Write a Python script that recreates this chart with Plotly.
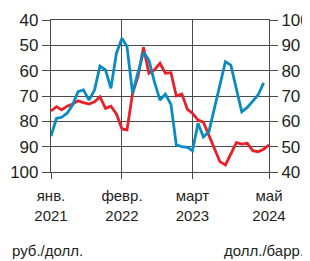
import pandas as pd
import plotly.graph_objects as go

rub_usd = [75.9, 74.2, 75.5, 74.0, 73.2, 71.9, 72.6, 73.2, 72.3, 70.3, 74.9, 74.0, 77.1,
           83.0, 83.4, 68.9, 62.4, 50.8, 61.0, 59.7, 57.1, 61.0, 60.8, 70.0, 69.2, 75.3,
           76.8, 79.5, 80.3, 85.8, 90.9, 95.9, 97.2, 92.8, 88.4, 89.0, 88.7, 91.6, 92.0,
           91.0, 89.3]
oil_usd = [54.2, 61.2, 61.6, 63.2, 66.4, 71.7, 72.4, 68.4, 72.4, 81.8, 80.3, 73.0, 86.9,
           92.8, 89.5, 71.1, 79.2, 87.2, 84.2, 75.6, 68.4, 70.7, 66.7, 50.7, 50.0, 49.7,
           48.4, 59.2, 53.8, 56.0, 65.0, 74.3, 83.5, 82.2, 73.0, 63.8, 65.5, 68.0, 70.4,
           75.2]
rub_dates = pd.date_range("2021-01-01", periods=len(rub_usd), freq="MS")
oil_dates = pd.date_range("2021-01-01", periods=len(oil_usd), freq="MS")

tick_dates = ["2021-01-01", "2022-02-01", "2023-03-01", "2024-05-01"]
tick_text = ["янв.<br>2021", "февр.<br>2022", "март<br>2023", "май<br>2024"]
left_ticks = [40, 50, 60, 70, 80, 90, 100]
right_ticks = [40, 50, 60, 70, 80, 90, 100]

RED = "#e8202a"
BLUE = "#0a8bc2"
GRID = "#4a4a4a"
TXT = "#231f20"
FONT = "Liberation Sans, Arial, sans-serif"

fig = go.Figure()
fig.add_trace(go.Scatter(x=rub_dates, y=rub_usd, mode="lines", yaxis="y",
                         line=dict(color=RED, width=2.8), showlegend=False))
fig.add_trace(go.Scatter(x=oil_dates, y=oil_usd, mode="lines", yaxis="y2",
                         line=dict(color=BLUE, width=2.8), showlegend=False))

fig.update_layout(
    width=302, height=253,
    margin=dict(l=43, r=41, t=12, b=89, autoexpand=False),
    paper_bgcolor="white", plot_bgcolor="white",
    font=dict(family=FONT, size=16, color=TXT),
    xaxis=dict(
        type="date", range=["2021-01-01", "2024-05-01"], automargin=False,
        tickvals=tick_dates, ticktext=tick_text, ticklabelstandoff=4,
        showgrid=True, gridcolor=GRID, gridwidth=1.2,
        ticks="outside", ticklen=6, tickcolor=GRID, tickwidth=1.2,
        showline=True, linecolor=GRID, linewidth=1.2, mirror=True,
        zeroline=False, tickfont=dict(size=15), tickangle=0,
    ),
    yaxis=dict(
        range=[100, 40], tickvals=left_ticks, automargin=False,
        showgrid=True, gridcolor=GRID, gridwidth=1.2,
        ticks="outside", ticklen=8, tickcolor=GRID, tickwidth=1.2,
        showline=True, linecolor=GRID, linewidth=1.2, mirror=True,
        zeroline=False, tickfont=dict(size=17),
    ),
    yaxis2=dict(
        range=[40, 100], tickvals=right_ticks, overlaying="y", side="right",
        automargin=False,
        showgrid=False, ticks="outside", ticklen=8, tickcolor=GRID, tickwidth=1.2,
        zeroline=False, tickfont=dict(size=17),
    ),
    annotations=[
        dict(text="руб./долл.", xref="paper", yref="paper", x=-41/218, y=-78/152,
             xanchor="left", yanchor="middle", showarrow=False, font=dict(size=15)),
        dict(text="долл./барр.", xref="paper", yref="paper", x=(298-43)/218, y=-78/152,
             xanchor="right", yanchor="middle", showarrow=False, font=dict(size=15)),
    ],
)

fig.write_html("out.html")
